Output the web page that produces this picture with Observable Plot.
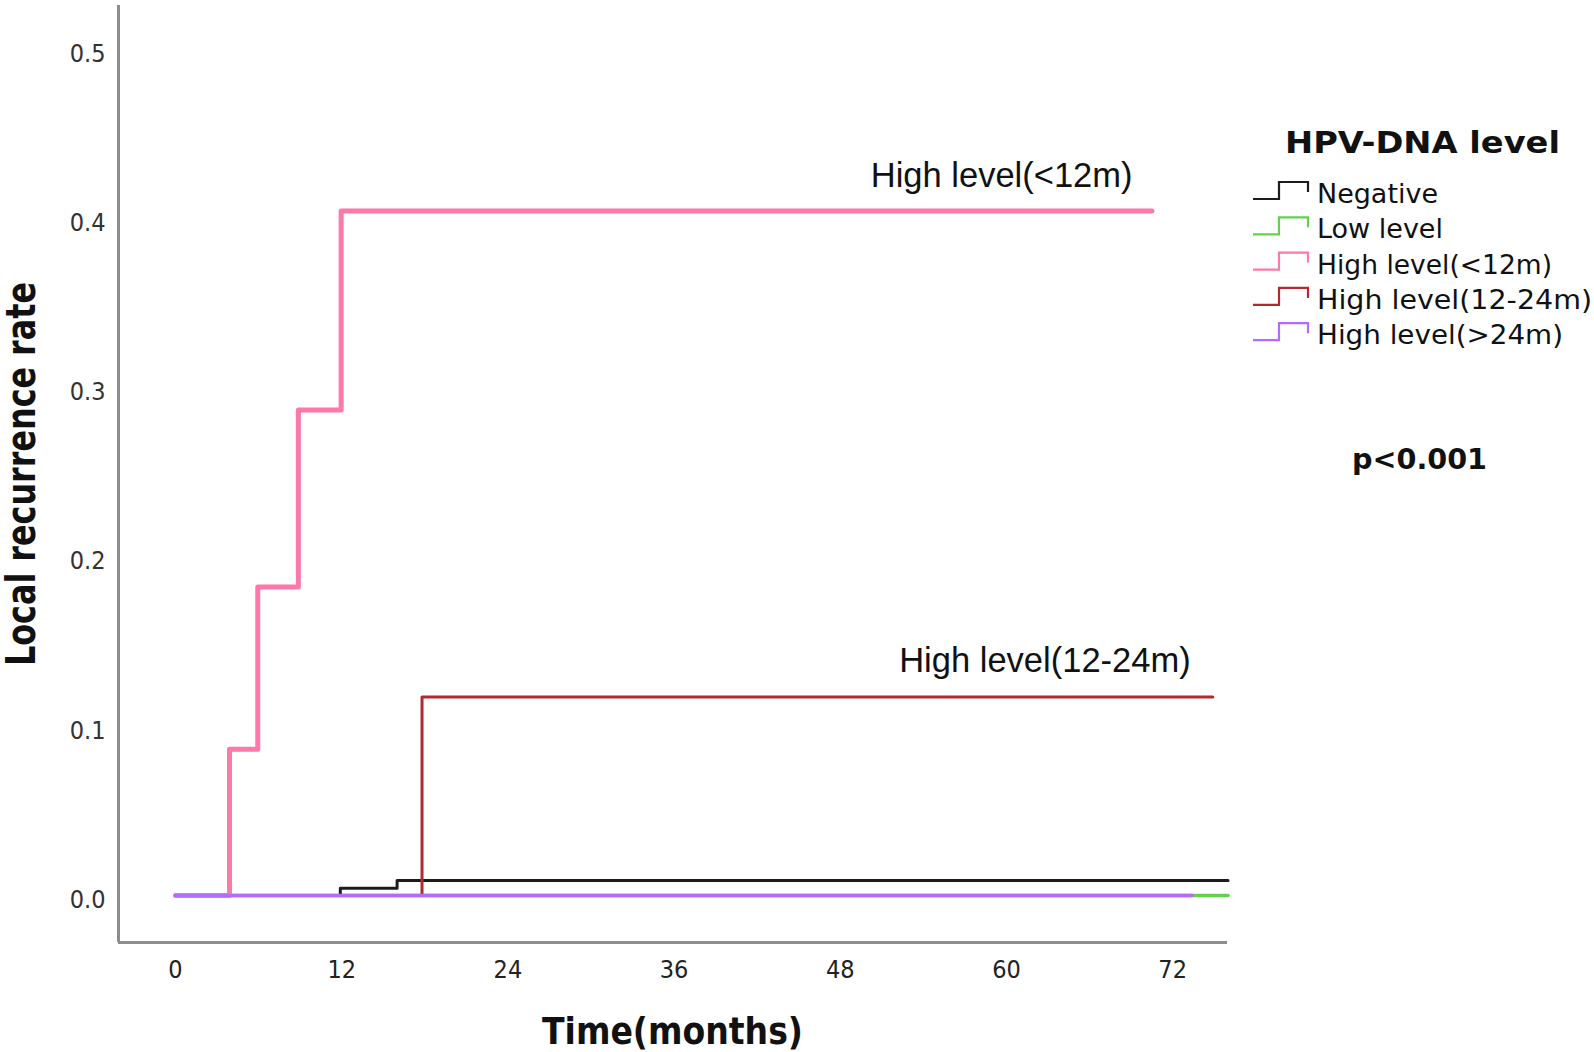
<!DOCTYPE html>
<html><head><meta charset="utf-8">
<script src="https://cdn.jsdelivr.net/npm/d3@7"></script>
<script src="https://cdn.jsdelivr.net/npm/@observablehq/plot@0.6"></script>
<style>body{margin:0;background:#fff} #chart{position:relative;width:1594px;height:1052px}</style>
</head><body><div id="chart"></div>
<script>
// ---- data ----
const seriesNames = ["Negative","Low level","High level(<12m)","High level(12-24m)","High level(>24m)"];
const seriesColors = ["#1c1c1c","#62d24c","#ff78aa","#b32a2e","#b16cff"];
const negativeTime = [0, 11.9, 16, 76];
const negativeRate = [0, 0.0043, 0.0089, 0.0089];
const lowTime = [0, 76];
const lowRate = [0, 0];
const highLt12Time = [0, 3.9, 5.94, 8.87, 11.96, 70.5];
const highLt12Rate = [0, 0.0865, 0.1825, 0.2872, 0.405, 0.405];
const high12to24Time = [0, 17.8, 74.9];
const high12to24Rate = [0, 0.1175, 0.1175];
const highGt24Time = [0, 73.4];
const highGt24Rate = [0, 0];
const xTicks = [0, 12, 24, 36, 48, 60, 72];
const yTicks = [0, 0.1, 0.2, 0.3, 0.4, 0.5];
const annotLabels = ["High level(<12m)", "High level(12-24m)"];
const annotTime = [69.1, 73.3];
const annotRate = [0.4191, 0.1321];
const pValueText = "p<0.001";
const legendTitle = "HPV-DNA level";
const xTitle = "Time(months)";
const yTitle = "Local recurrence rate";

// ---- build table ----
const times = [negativeTime, lowTime, highLt12Time, high12to24Time, highGt24Time];
const rates = [negativeRate, lowRate, highLt12Rate, high12to24Rate, highGt24Rate];
const rows = [];
seriesNames.forEach((name, i) => times[i].forEach((t, j) => rows.push({series: name, t, v: rates[i][j]})));
const annots = annotLabels.map((label, i) => ({label, t: annotTime[i], v: annotRate[i]}));

const widths = [3, 3.5, 5, 3, 3.5];
const drawOrder = [1, 0, 3, 2, 4];
const xDomain = [-4.116, 75.96], yDomain = [-0.0278, 0.5266];
const condensed = '"DejaVu Sans Condensed", "DejaVu Sans"';

const plot = Plot.plot({
  width: 1594, height: 1052,
  marginLeft: 118, marginRight: 367, marginTop: 5, marginBottom: 110,
  x: {domain: xDomain, axis: null},
  y: {domain: yDomain, axis: null},
  style: {background: "#fff", fontFamily: "DejaVu Sans", overflow: "visible"},
  marks: [
    Plot.ruleX([xDomain[0]], {stroke: "#8c8c8c", strokeWidth: 3}),
    Plot.ruleY([yDomain[0]], {stroke: "#8c8c8c", strokeWidth: 3}),
    ...drawOrder.map(i => Plot.line(rows.filter(r => r.series === seriesNames[i]),
      {x: "t", y: "v", curve: "step-after", stroke: seriesColors[i], strokeWidth: widths[i]})),
    Plot.text(yTicks, {y: d => d, frameAnchor: "left", dx: -13, dy: 4, textAnchor: "end",
      text: d => d.toFixed(1), fontSize: 25, fill: "#333", fontFamily: condensed}),
    Plot.text(xTicks, {x: d => d, frameAnchor: "bottom", dy: 35,
      text: d => String(d), fontSize: 25, fill: "#222", fontFamily: condensed}),
    Plot.text(annots, {x: "t", y: "v", text: "label", textAnchor: "end", lineAnchor: "bottom",
      fontSize: 34.5, fill: "#111", fontFamily: "Liberation Sans"})
  ]
});
document.getElementById("chart").appendChild(plot);

const svg = d3.select(plot);

// ---- axis titles ----
svg.append("text")
  .attr("x", 672.5).attr("y", 1044).attr("text-anchor", "middle")
  .attr("font-family", condensed).style("font-stretch", "condensed")
  .attr("font-weight", "bold").attr("font-size", 38).attr("fill", "#111")
  .attr("textLength", 261).attr("lengthAdjust", "spacingAndGlyphs")
  .text(xTitle);
svg.append("text")
  .attr("transform", "translate(21,474) rotate(-90)")
  .attr("x", 0).attr("y", 0).attr("dy", "0.36em").attr("text-anchor", "middle")
  .attr("font-family", condensed).style("font-stretch", "condensed")
  .attr("font-weight", "bold").attr("font-size", 40).attr("fill", "#111")
  .attr("textLength", 384).attr("lengthAdjust", "spacingAndGlyphs")
  .text(yTitle);

// ---- legend & p-value ----
const lg = svg.append("g").attr("font-family", "DejaVu Sans").attr("fill", "#111").attr("text-anchor", "start");
lg.append("text").attr("x", 1422.5).attr("y", 153).attr("text-anchor", "middle")
  .attr("font-weight", "bold").attr("font-size", 30)
  .attr("textLength", 275).attr("lengthAdjust", "spacingAndGlyphs").text(legendTitle);
const itemLens = [121, 126, 235, 275, 246];
seriesNames.forEach((name, i) => {
  const b = 203 + i * 35.3;
  lg.append("path")
    .attr("d", `M1253,${b - 4}H1279V${b - 21}H1308V${b - 11}`)
    .attr("fill", "none").attr("stroke", seriesColors[i]).attr("stroke-width", 2.2);
  lg.append("text").attr("x", 1317).attr("y", b).attr("font-size", 26)
    .attr("textLength", itemLens[i]).attr("lengthAdjust", "spacingAndGlyphs").text(name);
});
lg.append("text").attr("x", 1352).attr("y", 469).attr("font-size", 29).attr("font-weight", "bold")
  .attr("textLength", 135).attr("lengthAdjust", "spacingAndGlyphs").text(pValueText);
</script>
</body></html>
